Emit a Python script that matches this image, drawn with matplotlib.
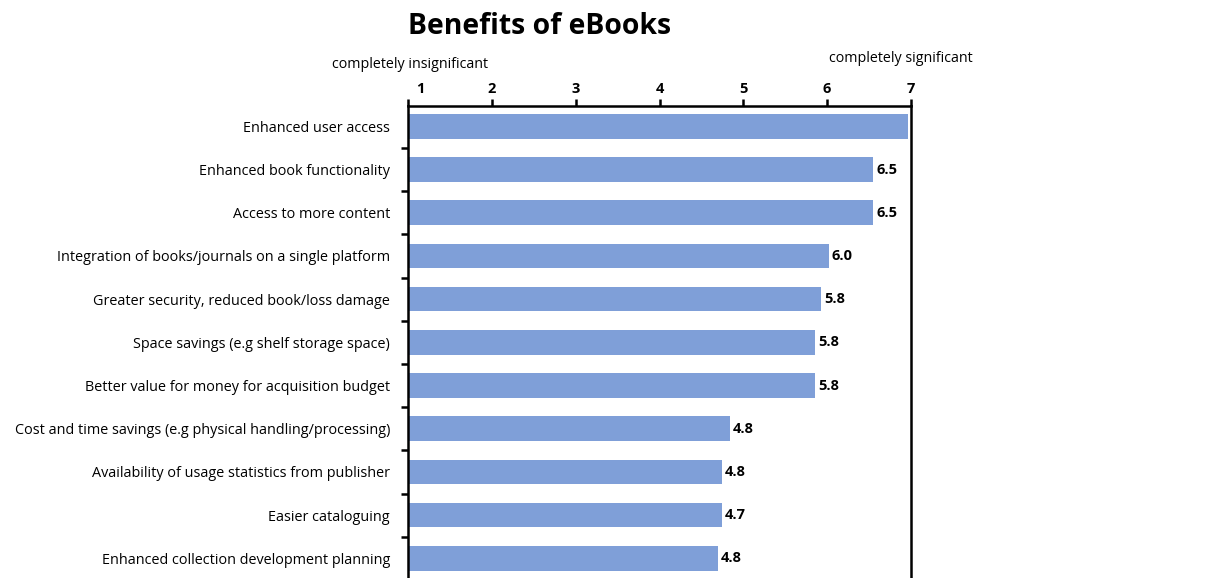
import matplotlib
matplotlib.use("Agg")
import matplotlib.pyplot as plt
import matplotlib.transforms as mtransforms
import numpy as np

categories = [
    "Enhanced user access",
    "Enhanced book functionality",
    "Access to more content",
    "Integration of books/journals on a single platform",
    "Greater security, reduced book/loss damage",
    "Space savings (e.g shelf storage space)",
    "Better value for money for acquisition budget",
    "Cost and time savings (e.g physical handling/processing)",
    "Availability of usage statistics from publisher",
    "Easier cataloguing",
    "Enhanced collection development planning",
]
values = [6.97, 6.55, 6.55, 6.02, 5.93, 5.86, 5.86, 4.84, 4.75, 4.75, 4.70]
value_labels = ["", "6.5", "6.5", "6.0", "5.8", "5.8", "5.8", "4.8", "4.8", "4.7", "4.8"]
x_ticks = [1, 2, 3, 4, 5, 6, 7]

FONT = "Open Sans"
plt.rcParams['font.family'] = [FONT, 'DejaVu Sans']

W, H = 1220, 578
fig = plt.figure(figsize=(W / 100, H / 100), dpi=100)
left_px, right_px, top_px = 408, 911, 106
ymin, ymax = -0.47, 10.62
px_per_cat = 43.2
bottom_px = top_px + (ymax - ymin) * px_per_cat
ax = fig.add_axes([left_px / W, 1 - bottom_px / H, (right_px - left_px) / W, (bottom_px - top_px) / H])

y = np.arange(len(categories))
base = 1
ax.barh(y, np.array(values) - base, left=base, height=0.57, color="#7f9fd8", zorder=2)
ax.set_xlim(1, 7)
ax.set_ylim(ymax, ymin)

for yi, v, lab in zip(y, values, value_labels):
    if lab:
        ax.annotate(lab, (v, yi), xytext=(2, 0), textcoords="offset points",
                    va="center", ha="left", fontsize=10.5, fontweight="bold")

ax.xaxis.tick_top()
ax.set_xticks(x_ticks)
ax.set_xticklabels([str(t) for t in x_ticks], fontsize=10.5, fontweight="bold")
ax.tick_params(axis="x", direction="out", length=5, width=1.8, pad=2)
first = ax.get_xticklabels()[0]
first.set_transform(first.get_transform() + mtransforms.ScaledTranslation(12 / 100, 0, fig.dpi_scale_trans))

ax.set_yticks(y)
ax.set_yticklabels(categories, fontsize=10.4)
ax.set_yticks(np.arange(0.5, len(categories) - 0.5, 1.0), minor=True)
ax.tick_params(axis="y", which="major", length=0, pad=13)
ax.tick_params(axis="y", which="minor", direction="out", length=5, width=1.8)

for s in ax.spines.values():
    s.set_linewidth(1.8)
ax.spines["bottom"].set_visible(False)

fig.text(540 / W, 1 - 26 / H, "Benefits of eBooks", ha="center", va="center",
         fontsize=20.4, fontweight="bold")
fig.text(410 / W, 1 - 64 / H, "completely insignificant", ha="center", va="center", fontsize=10.3)
fig.text(901 / W, 1 - 58 / H, "completely significant", ha="center", va="center", fontsize=10.3)

fig.savefig("out.png", dpi=100)
